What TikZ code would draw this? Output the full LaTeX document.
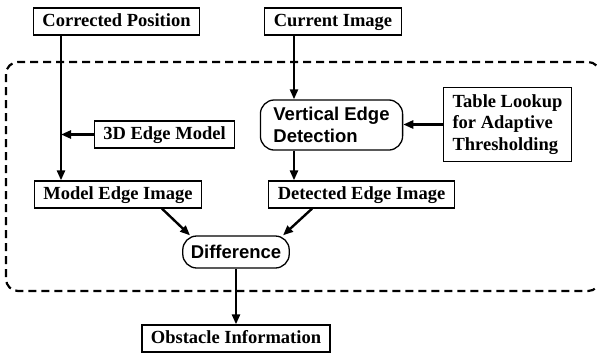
\documentclass[tikz,border=0pt]{standalone}
\usepackage{fontspec}
\setmainfont{Liberation Serif}
\newfontfamily\hvfont{Liberation Sans}
\usetikzlibrary{arrows.meta}

\tikzset{
  sqbox/.style={draw, line width=1.3pt, inner xsep=9pt, inner ysep=5pt, align=left,
    font=\fontsize{18.5}{21.5}\selectfont\bfseries},
  onebox/.style={sqbox, text height=13pt, text depth=4pt},
  rndbox/.style={draw, line width=1.3pt, rounded corners=14pt, inner xsep=13pt, inner ysep=7.5pt,
    align=left, font=\hvfont\fontsize{18.5}{21.5}\selectfont\bfseries},
  arr/.style={line width=2.4pt, -{Triangle[length=10pt,width=8pt]}},
  frame/.style={line width=2.2pt, dash pattern=on 8pt off 5pt, rounded corners=12pt},
}

\begin{document}
\begin{tikzpicture}[x=1pt,y=-1pt]
    \useasboundingbox (0,0) rectangle (597,354);

    %% dashed frame
    \draw [frame] (6,62) rectangle (600,291);

    %% boxes
    \node [onebox] (corr)   at (116.5,21.5) {Corrected Position};
    \node [onebox] (cur)    at (333,21.5)   {Current Image};
    \node [rndbox] (vert)   at (331.5,125)  {Vertical Edge\\Detection};
    \node [sqbox, inner ysep=7pt] (table) at (507.5,124.5) {Table Lookup\\for Adaptive\\Thresholding};
    \node [onebox] (edge3d) at (164.5,134.5) {3D Edge Model};
    \node [onebox] (model)  at (118,194.5)  {Model Edge Image};
    \node [onebox] (det)    at (361.5,194.5) {Detected Edge Image};
    \node [rndbox, inner xsep=8pt, inner ysep=9.5pt, text height=13pt, text depth=0pt]
          (diff)  at (236,252) {Difference};
    \node [onebox] (obst)   at (236,338.5)  {Obstacle Information};

    %% connectors
    \coordinate (cpline) at ([xshift=-55.5pt]corr.south);
    \coordinate (ciline) at ([xshift=-39pt]cur.south);
    \draw [arr] (cpline) -- (cpline |- model.north);
    \draw [arr] (edge3d.west) -- (edge3d.west -| cpline);
    \draw [arr] (ciline) -- (ciline |- vert.north);
    \draw [arr] (ciline |- vert.south) -- (ciline |- det.north);
    \draw [arr] (table.west) -- (table.west -| vert.east);
    \draw [arr] ([xshift=44pt]model.south) -- ([xshift=-46pt]diff.north);
    \draw [arr] ([xshift=-49.5pt]det.south) -- ([xshift=47pt]diff.north);
    \draw [arr] (diff.south) -- (obst.north);
\end{tikzpicture}
\end{document}
